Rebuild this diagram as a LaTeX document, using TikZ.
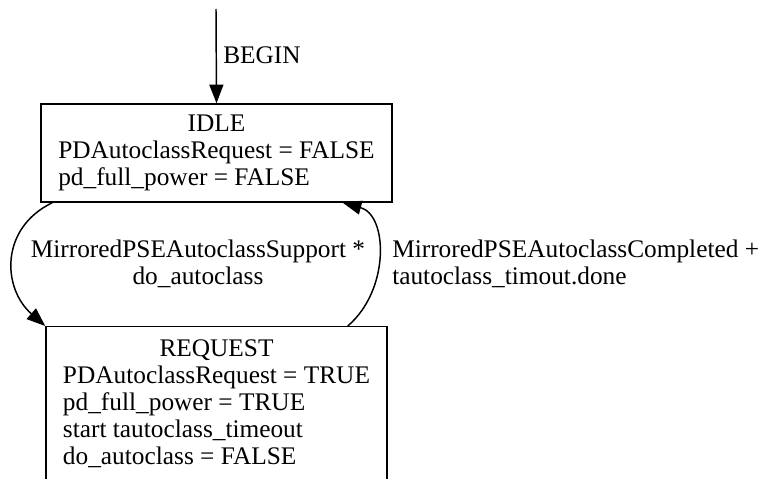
\documentclass[tikz,border=0pt]{standalone}
\usepackage{fontspec}
\setmainfont{Liberation Serif}
\usetikzlibrary{arrows.meta,calc}

\tikzset{
  state/.style={draw, rectangle, line width=1.1pt, inner sep=0pt, font=\fontsize{19}{20.3}\selectfont},
  trans/.style={line width=1.1pt, -{Triangle[length=14pt, width=10.5pt]}},
  lbl/.style={inner sep=0pt, font=\fontsize{19}{20.3}\selectfont}
}

\begin{document}
\begin{tikzpicture}[x=0.75pt, y=0.75pt]
        \clip (0,0) rectangle (763,-478);
        % states
        \node [state, minimum width=263.25pt, minimum height=73.5pt] (idle) at (216.5,-153)
          {\begin{tabular}{@{}l@{}}\multicolumn{1}{@{}c@{}}{IDLE}\\PDAutoclassRequest = FALSE\\pd\_full\_power = FALSE\end{tabular}};
        \node [state, minimum width=255.75pt, minimum height=117.75pt, anchor=north] (request) at (216.5,-326)
          {\begin{tabular}{@{}l@{}}\multicolumn{1}{@{}c@{}}{REQUEST}\\PDAutoclassRequest = TRUE\\pd\_full\_power = TRUE\\start tautoclass\_timeout\\do\_autoclass = FALSE\\ \end{tabular}};
        \coordinate (start) at (216,-9);
        % transitions
        \draw [trans] (start) -- (idle.north);
        \node [lbl, anchor=west] (beginlbl) at (223,-55) {BEGIN};
        \draw [trans] ($(idle.south west)+(12,0)$) .. controls (0,-228) and (2,-288) .. (request.north west);
        \node [lbl, align=center] (supportlbl) at (198,-264) {MirroredPSEAutoclassSupport *\\do\_autoclass};
        \draw [trans] ($(request.north east)+(-40,0)$) .. controls (390,-290) and (388,-215) .. ($(idle.south east)+(-50,0)$);
        \node [lbl, align=left, anchor=west] (completedlbl) at (392,-264) {MirroredPSEAutoclassCompleted +\\tautoclass\_timout.done};
\end{tikzpicture}
\end{document}
